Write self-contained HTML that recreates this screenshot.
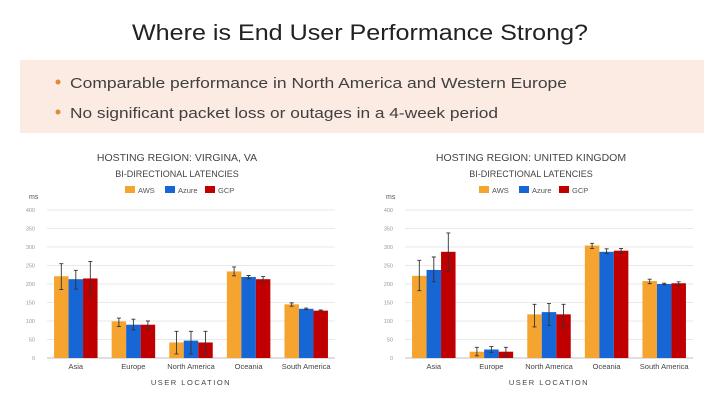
<!DOCTYPE html>
<html><head><meta charset="utf-8"><style>
html,body{margin:0;padding:0;background:#fff;width:720px;height:405px;overflow:hidden}
text{font-family:"Liberation Sans",sans-serif}
</style></head><body>
<svg id="page" width="720" height="405" viewBox="0 0 720 405" xmlns="http://www.w3.org/2000/svg">
<text x="360" y="40" text-anchor="middle" font-size="22" fill="#222" textLength="456" lengthAdjust="spacingAndGlyphs">Where is End User Performance Strong?</text>
<rect x="20" y="60" width="684" height="73" fill="#fbebe3"/>
<circle cx="58" cy="82" r="2.5" fill="#e08a3c"/>
<text x="70" y="88" font-size="15" fill="#404040" textLength="497" lengthAdjust="spacingAndGlyphs">Comparable performance in North America and Western Europe</text>
<circle cx="58" cy="112" r="2.5" fill="#e08a3c"/>
<text x="70" y="118" font-size="15" fill="#404040" textLength="428" lengthAdjust="spacingAndGlyphs">No significant packet loss or outages in a 4-week period</text>
<g id="chart-left"></g>
<g id="chart-right"></g>
</svg>
<script>
const categories = ["Asia","Europe","North America","Oceania","South America"];
const seriesNames = ["AWS","Azure","GCP"];
const yTicks = [0,50,100,150,200,250,300,350,400];
// Virginia
const vaAWS = [221,99,42,234,145];
const vaAWSlo = [185,85,11,222,140];
const vaAWShi = [255,108,72,246,149];
const vaAzure = [213,90,47,219,133];
const vaAzurelo = [186,76,11,214,131];
const vaAzurehi = [237,105,72,223,135];
const vaGCP = [215,90,42,213,128];
const vaGCPlo = [168,77,11,205,127];
const vaGCPhi = [261,100,72,220,130];
// UK
const ukAWS = [222,17,118,304,208];
const ukAWSlo = [182,6,84,296,201];
const ukAWShi = [264,29,145,310,213];
const ukAzure = [238,23,124,287,200];
const ukAzurelo = [206,15,88,282,198];
const ukAzurehi = [273,31,147,295,202];
const ukGCP = [287,17,118,290,202];
const ukGCPlo = [234,6,84,283,196];
const ukGCPhi = [338,29,145,296,206];

const colors = ["#f5a52f","#1766d6","#c00000"];
const NS = "http://www.w3.org/2000/svg";
function mk(parent, tag, attrs){const e=document.createElementNS(NS,tag);for(const k in attrs)e.setAttribute(k,attrs[k]);parent.appendChild(e);return e;}

function draw(gid, cfg, vals, los, his){
  const g=document.getElementById(gid);
  const x0=cfg.x0,x1=cfg.x1,y0=358,yTop=210,maxV=400;
  const y=v=>y0-(v/maxV)*(y0-yTop);
  const bw=(x1-x0)/categories.length;
  const barW=14.5;
  const cx=cfg.cx;
  let t=mk(g,"text",{x:cx,y:161,"text-anchor":"middle","font-size":"10.5",fill:"#444"});
  
  
  t.textContent=cfg.title;
  t=mk(g,"text",{x:cx,y:177,"text-anchor":"middle","font-size":"9",fill:"#444"});
  
  
  t.textContent="BI-DIRECTIONAL LATENCIES";
  seriesNames.forEach((n,i)=>{
    const lx=cx-52+i*40;
    const r=mk(g,"rect",{x:lx,y:186,width:10,height:7,fill:colors[i]});
    
    
    const lt=mk(g,"text",{x:lx+13,y:193,"font-size":"7.5",fill:"#555"});
    
    
    lt.textContent=n;
  });
  t=mk(g,"text",{x:cfg.msx,y:199,"font-size":"7",fill:"#555"});
  
  
  t.textContent="ms";
  yTicks.forEach(v=>{
    const l=mk(g,"line",{x1:x0,x2:x1,y1:y(v),y2:y(v),stroke:v===0?"#ccc":"#e2e2e2","stroke-width":v===0?1.2:0.8});
    
    
    const tl=mk(g,"text",{x:x0-12,y:y(v)+2,"text-anchor":"end","font-size":"5.5",fill:"#999"});
    
    
    tl.textContent=v;
  });
  categories.forEach((c,ci)=>{
    const gc=x0+bw*(ci+0.5);
    vals.forEach((arr,si)=>{
      const bx=gc-1.5*barW+si*barW;
      const b=mk(g,"rect",{x:bx,y:y(arr[ci]),width:barW,height:y0-y(arr[ci]),fill:colors[si]});
      
      
      const ex=bx+barW/2;
      const eb=mk(g,"path",{d:`M${ex},${y(his[si][ci])}V${y(los[si][ci])}M${ex-2},${y(his[si][ci])}H${ex+2}M${ex-2},${y(los[si][ci])}H${ex+2}`,stroke:"#333","stroke-width":0.9,fill:"none"});
      
      
    });
    const cl=mk(g,"text",{x:gc,y:369,"text-anchor":"middle","font-size":"7.5",fill:"#444"});
    
    
    cl.textContent=c;
  });
  t=mk(g,"text",{x:cfg.xtx,y:385,"text-anchor":"middle","font-size":"7.5",fill:"#444","letter-spacing":"1.5"});
  
  
  t.textContent="USER LOCATION";
}
draw("chart-left",{x0:47,x1:335,cx:177,msx:29,xtx:191,title:"HOSTING REGION: VIRGINA, VA"},
  [vaAWS,vaAzure,vaGCP],[vaAWSlo,vaAzurelo,vaGCPlo],[vaAWShi,vaAzurehi,vaGCPhi]);
draw("chart-right",{x0:405,x1:693,cx:531,msx:386,xtx:549,title:"HOSTING REGION: UNITED KINGDOM"},
  [ukAWS,ukAzure,ukGCP],[ukAWSlo,ukAzurelo,ukGCPlo],[ukAWShi,ukAzurehi,ukGCPhi]);
</script>
</body></html>
